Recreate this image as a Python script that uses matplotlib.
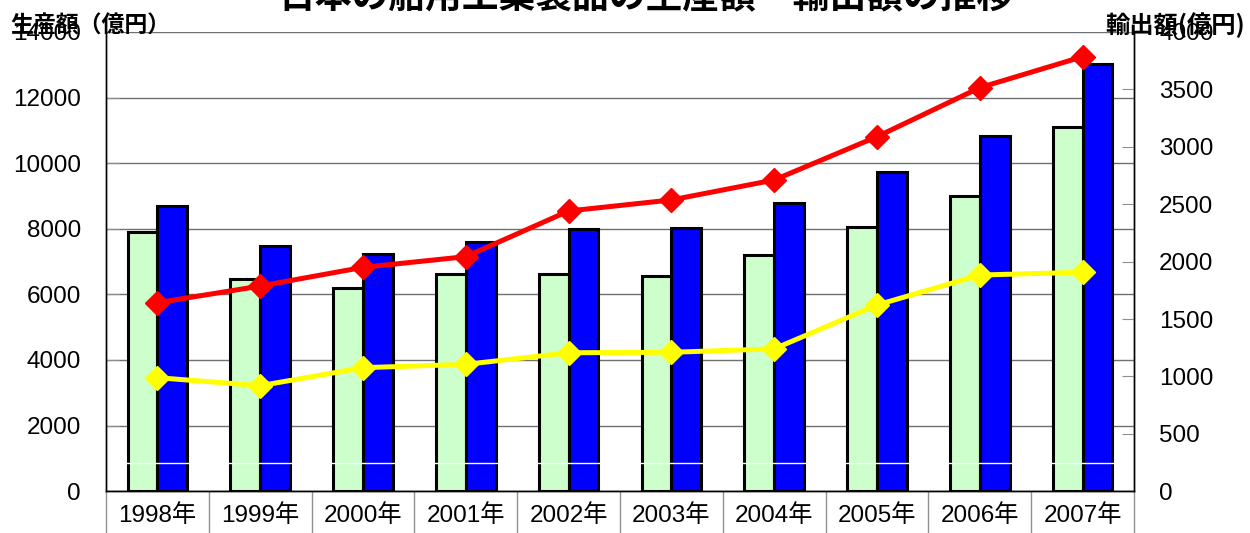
import matplotlib
matplotlib.use('Agg')
import matplotlib.pyplot as plt
import numpy as np

plt.rcParams['font.family'] = ['Liberation Sans', 'Noto Sans CJK JP', 'DejaVu Sans']

title = '日本の船用工業製品の生産額・輸出額の推移'
left_label = '生産額（億円）'
right_label = '輸出額(億円)'
years = ['1998年', '1999年', '2000年', '2001年', '2002年',
         '2003年', '2004年', '2005年', '2006年', '2007年']
# bars (left axis, 億円)
green_bars = [7890, 6470, 6200, 6610, 6630, 6550, 7200, 8045, 8990, 11095]
blue_bars = [8700, 7480, 7230, 7600, 7985, 8015, 8780, 9740, 10830, 13015]
# lines (right axis, 億円)
red_line = [1642, 1787, 1950, 2043, 2441, 2537, 2711, 3088, 3515, 3785]
yellow_line = [989, 919, 1076, 1105, 1206, 1210, 1240, 1622, 1883, 1907]
left_ticks = [0, 2000, 4000, 6000, 8000, 10000, 12000, 14000]
right_ticks = [0, 500, 1000, 1500, 2000, 2500, 3000, 3500, 4000]

W, H = 1250, 533
fig = plt.figure(figsize=(W / 100, H / 100), dpi=100)
ax = fig.add_axes([106 / W, (H - 491.2) / H, (1134 - 106) / W, (491.2 - 32) / H])

x = np.arange(len(years))
bw = 0.29
ax.bar(x - bw / 2, green_bars, bw, color='#CCFFCC', edgecolor='black', linewidth=2.2, zorder=2)
ax.bar(x + bw / 2, blue_bars, bw, color='#0000FF', edgecolor='black', linewidth=2.2, zorder=2)
ax.set_xlim(-0.5, len(years) - 0.5)
ax.set_ylim(0, 14000)
ax.set_yticks(left_ticks)
ax.set_yticklabels([str(v) for v in left_ticks])
ax.set_axisbelow(True)
ax.grid(axis='y', color='#707070', linewidth=1)
ax.tick_params(axis='y', direction='in', length=9, color='#909090', pad=18, labelsize=17.5)
ax.set_xticks(x)
ax.set_xticklabels(years)
ax.set_xticks(np.arange(-0.5, len(years), 1.0), minor=True)
ax.tick_params(axis='x', which='major', length=0, pad=9, labelsize=17.5)
ax.tick_params(axis='x', which='minor', length=31, color='#909090', direction='out', width=1)
for s in ['left', 'right', 'bottom']:
    ax.spines[s].set_color('black')
    ax.spines[s].set_linewidth(1.0)
ax.spines['top'].set_visible(False)

ax2 = ax.twinx()
ax2.set_ylim(0, 4000)
ax2.set_yticks(right_ticks)
ax2.set_yticklabels([str(v) for v in right_ticks])
ax2.tick_params(axis='y', direction='in', length=9, color='#909090', pad=18, labelsize=17.5)
ax2.hlines(250, -0.45, len(years) - 0.55, color='white', linewidth=1, zorder=1)
ax2.plot(x, red_line, color='#FF0000', linewidth=3.6, marker='D', markersize=12.7, zorder=3)
ax2.plot(x, yellow_line, color='#FFFF00', linewidth=3.6, marker='D', markersize=12.7, zorder=3)
ax2.spines['top'].set_visible(False)
for s in ['left', 'right', 'bottom']:
    ax2.spines[s].set_color('black')
    ax2.spines[s].set_linewidth(1.0)

fig.text(646 / W, 1 - 8 / H, title, ha='center', va='baseline', fontsize=26.5,
         fontweight='bold', family=['Noto Sans CJK JP'])
fig.text(10 / W, 1 - 26 / H, left_label, ha='left', va='center', fontsize=16.5,
         fontweight='bold', family=['Noto Sans CJK JP'])
fig.text(1105 / W, 1 - 25 / H, right_label, ha='left', va='center', fontsize=17.5,
         fontweight='bold', family=['Noto Sans CJK JP'])

fig.savefig('out.png', dpi=100)
